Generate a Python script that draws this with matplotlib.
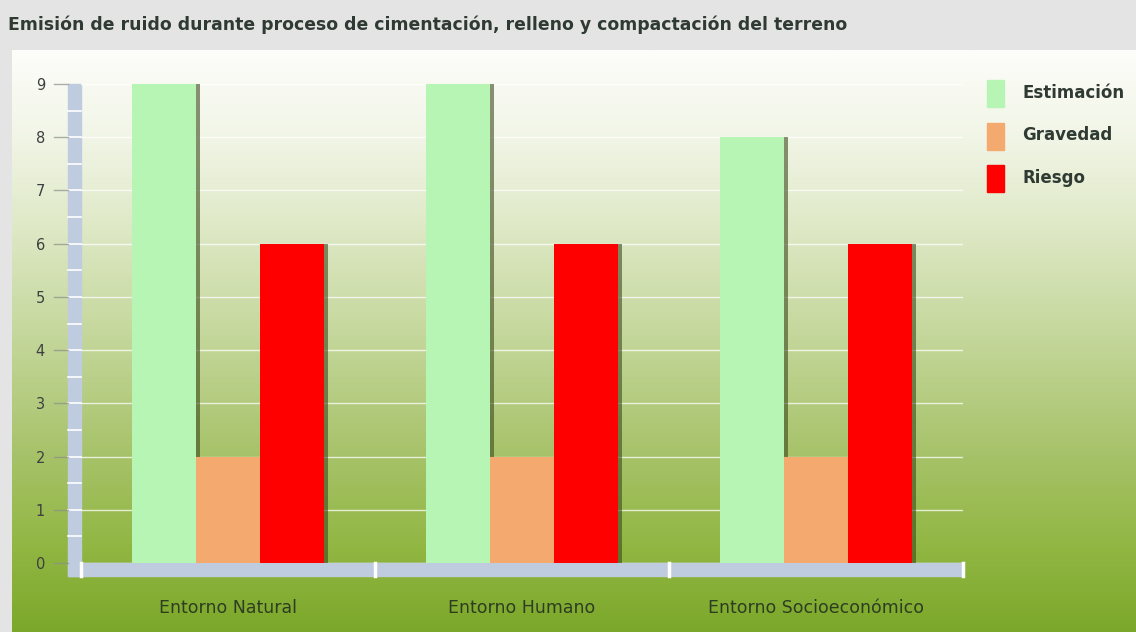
import numpy as np
import matplotlib.pyplot as plt
from matplotlib.colors import LinearSegmentedColormap
from matplotlib.patches import Rectangle

categorias = ['Entorno Natural', 'Entorno Humano', 'Entorno Socioeconómico']
estimacion = [9, 9, 8]
gravedad = [2, 2, 2]
riesgo = [6, 6, 6]
series = ['Estimación', 'Gravedad', 'Riesgo']
colores = ['#b6f5b4', '#f4aa6e', '#ff0000']
titulo = 'Emisión de ruido durante proceso de cimentación, relleno y compactación del terreno'

W, H = 1136, 632
fig = plt.figure(figsize=(W / 100, H / 100), dpi=100)

# fondo: cabecera gris y panel con degradado blanco -> verde
bg = fig.add_axes([0, 0, 1, 1])
bg.set_xlim(0, W)
bg.set_ylim(H, 0)
bg.axis('off')
bg.add_patch(Rectangle((0, 0), W, H, color='#e4e4e4', zorder=0))
grad = LinearSegmentedColormap.from_list('g', [
    (0.0, '#fdfdfa'), (0.15, '#f1f5e6'), (0.3, '#dfe9c7'), (0.5, '#c3d699'),
    (0.7, '#a6c268'), (0.85, '#92b744'), (1.0, '#7ba82a')])
bg.imshow(np.linspace(0, 1, 256)[:, None], cmap=grad, aspect='auto',
          extent=(12, W, H, 50), zorder=1)
bg.text(8, 25, titulo, fontsize=12.4, fontweight='bold', color='#2f3a33',
        va='center', ha='left', zorder=2)

# pared y suelo del grafico
pared = '#bfcbdf'
bg.add_patch(Rectangle((68, 84), 13, 492, color=pared, zorder=2))
bg.add_patch(Rectangle((68, 563), 895, 13, color=pared, zorder=2))
for yv in np.arange(0.5, 9, 0.5):
    yp = 563 - yv * (563 - 84) / 9
    bg.plot([68, 81], [yp, yp], color='white', lw=1.2, zorder=3)
for xp in [81, 375, 669, 963]:
    bg.plot([xp, xp], [563, 576], color='white', lw=2.5, zorder=3)

ax = fig.add_axes([81 / W, (H - 563) / H, (963 - 81) / W, (563 - 84) / H])
ax.set_facecolor('none')
ax.set_xlim(-0.5, 2.5)
ax.set_ylim(0, 9)
for s in ax.spines.values():
    s.set_visible(False)

# lineas de guia y marcas a la izquierda de la pared
for yv in range(0, 10):
    ax.plot([-0.5, 2.5], [yv, yv], color='white', lw=1, alpha=0.75,
            zorder=1)
    ax.plot([-0.593, -0.544], [yv, yv], color='#8a8f88', lw=1, alpha=0.7,
            zorder=1, clip_on=False)

x = np.arange(len(categorias))
ancho = 0.218
sombra = 4 / 294
for i, (vals, col) in enumerate(zip([estimacion, gravedad, riesgo], colores)):
    pos = x + (i - 1) * ancho
    ax.bar(pos + sombra, vals, ancho, color='#3b4a1c', alpha=0.6, zorder=2,
           linewidth=0)
    ax.bar(pos, vals, ancho, color=col, zorder=3 + i, linewidth=0, label=series[i])

ax.set_yticks(range(0, 10))
ax.tick_params(axis='y', length=0, pad=26, labelsize=10.5, labelcolor='#3d4040')
ax.set_xticks(x)
ax.set_xticklabels(categorias)
ax.tick_params(axis='x', length=0, pad=26, labelsize=12.5, labelcolor='#2e3d22')

# leyenda
for i, (nom, col) in enumerate(zip(series, colores)):
    yc = 93 + i * 42.5
    bg.add_patch(Rectangle((987, yc - 13), 17, 27, color=col, zorder=4))
    bg.text(1022, yc, nom, fontsize=12, fontweight='bold', color='#2f3a33',
            va='center', ha='left', zorder=4)

fig.savefig('out.png', dpi=100)
